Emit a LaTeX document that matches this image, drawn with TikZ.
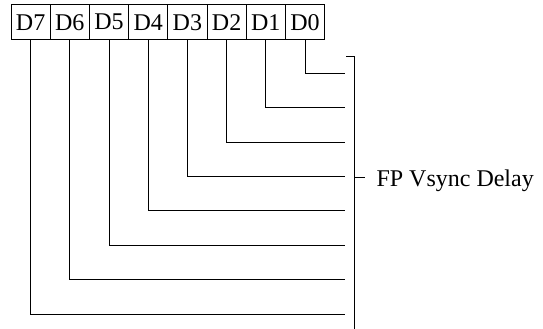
\documentclass[tikz,border=0pt]{standalone}
\usepackage{fontspec}
\setmainfont{Liberation Serif}
\usetikzlibrary{calc}

\begin{document}
\begin{tikzpicture}[x=1pt, y=-1pt, line width=1pt,
    bitbox/.style={draw, minimum width=39.2pt, minimum height=35.5pt, inner sep=0pt,
        font=\fontsize{24}{26}\selectfont}]
    \useasboundingbox (0,0) rectangle (543,329);
    % --- Register bits D7 ... D0 ---
    \foreach \i in {0,...,7}
        \node[bitbox] (d\i) at ({30.6+39.2*(7-\i)}, 22.2) {D\i};
    % Bit lines (D0 on top, D7 at the bottom)
    \foreach \i in {0,...,7} {
        \coordinate (e\i) at (345, {73.3+34.4*\i});
        \draw (d\i.south) |- (e\i);
    }
    % --- Bracket and field name ---
    \coordinate (brtop) at (354, 56.7);
    \coordinate (brmid) at (354, 177);
    \coordinate (brbot) at (354, 335);
    \draw ($(brtop)+(-8,0)$) -- (brtop) -- (brbot);
    \node[anchor=base west, inner sep=0pt, font=\fontsize{24}{26}\selectfont]
        (delay) at (376, 186.7) {FP Vsync Delay};
    \draw (brmid) -- ++(11,0);
\end{tikzpicture}
\end{document}
